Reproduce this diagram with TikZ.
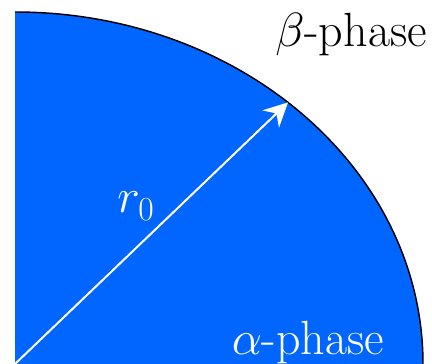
\RequirePackage{fix-cm}
\documentclass[tikz,border=0pt]{standalone}
\usepackage{fontspec}
\usetikzlibrary{arrows.meta}
\definecolor{phaseblue}{RGB}{0,102,255}

\begin{document}
\begin{tikzpicture}[x=0.75pt,y=0.75pt,
  phasetext/.style={inner sep=0pt,font=\fontsize{36}{40}\selectfont}]
\useasboundingbox (0,0) rectangle (432,364);
\coordinate (O) at (15,0);
\coordinate (T) at (15,352);
\path (O) ++(48:408 and 352) coordinate (R);

% Phase alpha (quart d'ellipse)
\fill[phaseblue] (O) -- (T) arc[start angle=90,end angle=0,x radius=408,y radius=352] -- cycle;
\draw[line width=1.1pt] (T) arc[start angle=90,end angle=0,x radius=408,y radius=352];

% Rayon
\draw[white,line width=1.5pt,-{Stealth[length=18pt,width=18pt,inset=6pt]}] (O) -- (R);

\node[phasetext,anchor=base] (beta) at (351,317) {$\beta$-phase};
\node[phasetext,anchor=base,white] (alpha) at (308,9) {$\alpha$-phase};
\node[phasetext,anchor=base west,white] (r) at (117,151) {$r_0$};
\end{tikzpicture}
\end{document}
